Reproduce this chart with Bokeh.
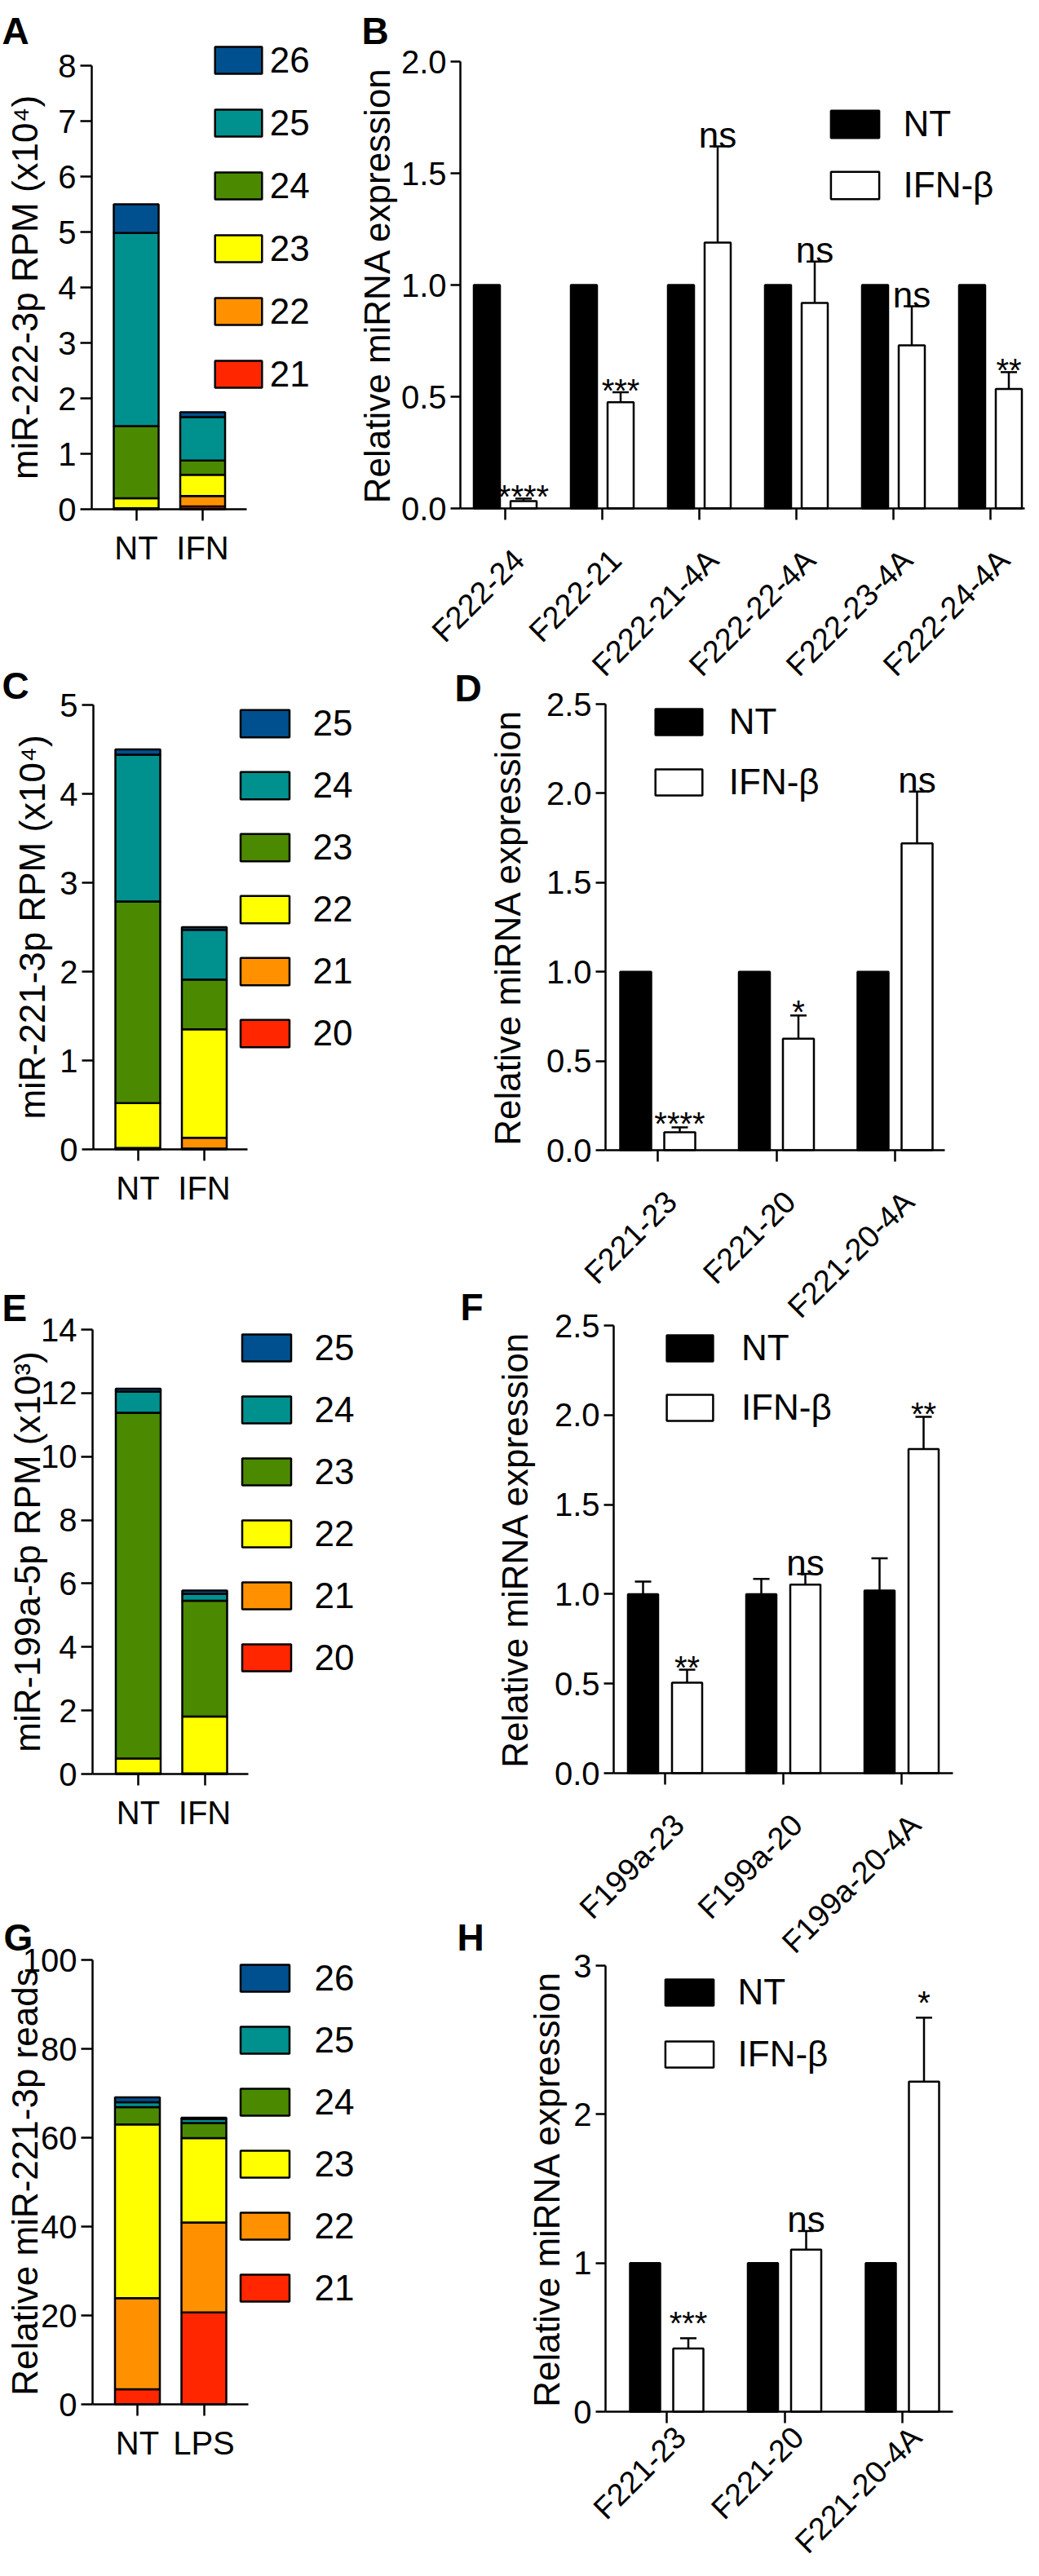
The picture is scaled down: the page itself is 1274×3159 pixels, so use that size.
import math
from bokeh.plotting import figure
from bokeh.models import (Range1d, FixedTicker, NumeralTickFormatter, Legend, LegendItem,
                          Label, LabelSet, ColumnDataSource, Whisker, TeeHead, LinearAxis)
from bokeh.embed import file_html
from bokeh.resources import INLINE
from bokeh.core.properties import value

FONT = "Liberation Sans"

# ---------------- data ----------------
# A
A_lengths = ["21", "22", "23", "24", "25", "26"]
A_groups = ["NT", "IFN"]
A_NT = [0.005, 0.015, 0.18, 1.30, 3.48, 0.52]
A_IFN = [0.05, 0.19, 0.38, 0.26, 0.78, 0.09]
A_yticks = [0, 1, 2, 3, 4, 5, 6, 7, 8]

# B
B_constructs = ["F222-24", "F222-21", "F222-21-4A", "F222-22-4A", "F222-23-4A", "F222-24-4A"]
B_NT = [1, 1, 1, 1, 1, 1]
B_IFN = [0.033, 0.475, 1.19, 0.92, 0.73, 0.535]
B_IFN_err = [0.011, 0.045, 0.43, 0.185, 0.175, 0.075]
B_sig = ["****", "***", "ns", "ns", "ns", "**"]
B_yticks = [0, 0.5, 1.0, 1.5, 2.0]

# C
C_lengths = ["20", "21", "22", "23", "24", "25"]
C_groups = ["NT", "IFN"]
C_NT = [0.005, 0.01, 0.505, 2.27, 1.65, 0.06]
C_IFN = [0.01, 0.12, 1.22, 0.56, 0.56, 0.03]
C_yticks = [0, 1, 2, 3, 4, 5]

# D
D_constructs = ["F221-23", "F221-20", "F221-20-4A"]
D_NT = [1, 1, 1]
D_IFN = [0.10, 0.625, 1.72]
D_IFN_err = [0.028, 0.13, 0.29]
D_sig = ["****", "*", "ns"]
D_yticks = [0, 0.5, 1.0, 1.5, 2.0, 2.5]

# E
E_lengths = ["20", "21", "22", "23", "24", "25"]
E_groups = ["NT", "IFN"]
E_NT = [0.0, 0.02, 0.47, 10.89, 0.67, 0.09]
E_IFN = [0.0, 0.02, 1.79, 3.65, 0.22, 0.10]
E_yticks = [0, 2, 4, 6, 8, 10, 12, 14]

# F
F_constructs = ["F199a-23", "F199a-20", "F199a-20-4A"]
F_NT = [1.0, 1.0, 1.02]
F_NT_err = [0.07, 0.085, 0.18]
F_IFN = [0.506, 1.053, 1.81]
F_IFN_err = [0.072, 0.06, 0.18]
F_sig = ["**", "ns", "**"]
F_yticks = [0, 0.5, 1.0, 1.5, 2.0, 2.5]

# G
G_lengths = ["21", "22", "23", "24", "25", "26"]
G_groups = ["NT", "LPS"]
G_NT = [3.4, 20.5, 39.1, 3.9, 1.1, 1.1]
G_LPS = [20.7, 20.2, 19.0, 3.4, 0.9, 0.3]
G_yticks = [0, 20, 40, 60, 80, 100]

# H
H_constructs = ["F221-23", "F221-20", "F221-20-4A"]
H_NT = [1, 1, 1]
H_IFN = [0.425, 1.09, 2.22]
H_IFN_err = [0.069, 0.125, 0.43]
H_sig = ["***", "ns", "*"]
H_yticks = [0, 1, 2, 3]

TREAT_LABELS = ["NT", "IFN-\u03b2"]
LEN_COLORS = ["#ff2600", "#ff9100", "#ffff00", "#4b8a00", "#00918f", "#00508f"]

# ---------------- one canvas holding all eight panels ----------------
W, H = 1258, 3143          # fits the window inside the 8px page margin
X0, Y0 = 8, 8              # canvas origin in reference (screenshot) pixels

p = figure(width=W, height=H, x_range=Range1d(0, W), y_range=Range1d(0, H),
           x_axis_type=None, y_axis_type=None,
           output_backend="svg", toolbar_location=None, tools="",
           min_border=0, min_border_left=0, min_border_right=0,
           min_border_top=0, min_border_bottom=0)
p.outline_line_color = None
p.background_fill_color = None
p.border_fill_color = None


class Map:
    """linear map between reference pixels and one panel's data units"""
    def __init__(self, x_px0, x_unit, y_px0, y_unit):
        self.x_px0, self.xu, self.y_px0, self.yu = x_px0, x_unit, y_px0, y_unit

    def x(self, px):
        return (px - self.x_px0) / self.xu

    def y(self, py):
        return (self.y_px0 - py) / self.yu


extra_x, extra_y = {}, {}


def register(name, m):
    extra_x[name] = Range1d(m.x(X0), m.x(X0 + W))
    extra_y[name] = Range1d(m.y(Y0 + H), m.y(Y0))


def axes(name, m, frame, ymax, yticks, ytick_out, title, title_standoff, xticks, xlabels,
         yfmt=None, xlabel_standoff=5):
    L, T, R, B = frame
    common = dict(axis_line_width=2.5, axis_line_color="black",
                  major_tick_line_width=2.5, major_tick_line_color="black",
                  major_tick_in=0, minor_tick_line_color=None,
                  major_label_text_font=FONT, major_label_text_font_size="40px",
                  major_label_text_color="black",
                  x_range_name=name, y_range_name=name)
    ya = LinearAxis(fixed_location=m.x(L), bounds=(0, ymax), ticker=FixedTicker(ticks=yticks),
                    major_tick_out=ytick_out, major_label_standoff=5,
                    axis_label=title, axis_label_text_font=FONT,
                    axis_label_text_font_size="44px", axis_label_text_font_style="normal",
                    axis_label_text_color="black", axis_label_standoff=title_standoff, **common)
    if yfmt is not None:
        ya.formatter = yfmt
    p.add_layout(ya, "left")
    xa = LinearAxis(fixed_location=0, bounds=(m.x(L), m.x(R)), ticker=FixedTicker(ticks=xticks),
                    major_tick_out=14, major_label_standoff=xlabel_standoff,
                    major_label_overrides={t: s for t, s in zip(xticks, xlabels)},
                    **common)
    p.add_layout(xa, "below")


def add_legend(items, box_left, box_w, box_top, box_h, pitch, label_left, fs=44):
    gw = int(round(box_w / 0.8))
    gh = int(round(box_h / 0.8))
    h_item = int(round(gh + 0.70 * fs))
    spacing = int(round(pitch - h_item))
    x1 = box_left - 0.1 * gw
    item_top = box_top - 0.1 * gh
    n = len(items)
    total = n * h_item + (n - 1) * spacing
    lx = x1 - X0
    ly = (Y0 + H) - (item_top + total)
    standoff = int(round(label_left - 2 - (x1 + gw)))
    lg = Legend(items=items, location=(lx, ly), glyph_width=gw, glyph_height=gh,
                label_height=h_item, label_width=10, spacing=spacing, padding=0, margin=0,
                label_standoff=standoff, label_text_font=FONT,
                label_text_font_size=f"{fs}px", label_text_baseline="alphabetic",
                label_text_color="black",
                border_line_color=None, background_fill_color=None)
    p.add_layout(lg)


def add_letter(name, m, letter, px, py):
    p.add_layout(Label(x=m.x(px), y=m.y(py), x_range_name=name, y_range_name=name,
                       text=letter, text_font=FONT, text_font_size="46px",
                       text_font_style="bold", text_baseline="alphabetic",
                       text_align="left", text_color="black"))


panels = []


def stacked_panel(name, spec, lengths, groups, nt, other, yticks, title):
    L, T, R, B = spec["frame"]
    c0, c1 = spec["centers"]
    ymax = yticks[-1]
    m = Map(c0, c1 - c0, B, (B - T) / ymax)
    register(name, m)

    def draw():
        data = {"x": [0, 1]}
        for i, ln in enumerate(lengths):
            data[ln] = [nt[i], other[i]]
        src = ColumnDataSource(data)
        rs = p.vbar_stack(stackers=lengths, x="x", width=spec["barw"] / m.xu, source=src,
                          fill_color=LEN_COLORS, line_color="black", line_width=2.5,
                          x_range_name=name, y_range_name=name)
        axes(name, m, spec["frame"], ymax, yticks, 14, title, spec["title_standoff"], [0, 1], groups,
             xlabel_standoff=11)
        items = [LegendItem(label=lengths[i], renderers=[rs[i]]) for i in reversed(range(len(lengths)))]
        add_legend(items, *spec["legend"])
        for (letter, px, py) in spec["letters"]:
            add_letter(name, m, letter, px, py)
    panels.append(draw)


def bar_panel(name, spec, constructs, nt, nt_err, ifn, ifn_err, sig, yticks, title):
    n = len(constructs)
    L, T, R, B = spec["frame"]
    ymax = yticks[-1]
    m = Map(spec["g0"], spec["d"], B, (B - T) / ymax)
    register(name, m)

    def draw():
        rn = dict(x_range_name=name, y_range_name=name)
        idx = list(range(n))
        off = spec["off"] / m.xu
        w = spec["barw"] / m.xu
        nt_x = [i - off for i in idx]
        ifn_x = [i + off for i in idx]
        r_nt = p.vbar(x=nt_x, top=nt, width=w, fill_color="black", line_color="black",
                      line_width=2.5, **rn)
        r_ifn = p.vbar(x=ifn_x, top=ifn, width=w, fill_color="white", line_color="black",
                       line_width=2.5, **rn)

        def whisk(xs, tops, errs):
            src = ColumnDataSource(dict(base=xs, lower=tops,
                                        upper=[t + e for t, e in zip(tops, errs)]))
            p.add_layout(Whisker(source=src, base="base", lower="lower", upper="upper",
                                 line_width=2.5, line_color="black", level="overlay",
                                 upper_head=TeeHead(size=20, line_width=2.5, line_color="black"),
                                 lower_head=None, **rn))

        if nt_err is not None:
            whisk(nt_x, nt, nt_err)
        whisk(ifn_x, ifn, ifn_err)

        for i in idx:
            top = ifn[i] + ifn_err[i]
            if sig[i] == "ns":
                y = top + spec["ns_pad"] / m.yu
                fs = "44px"
            else:
                y = top + spec["star_pad"] / m.yu
                fs = "40px"
            p.text(x=[ifn_x[i]], y=[y], text=[sig[i]], text_font=value(FONT),
                   text_font_size=value(fs), text_align="center", text_baseline="alphabetic",
                   text_color="black", **rn)

        fmt = NumeralTickFormatter(format="0.0") if any(not float(t).is_integer() for t in yticks) else None
        axes(name, m, spec["frame"], ymax, yticks, 12, title, spec["title_standoff"],
             idx, [""] * n, yfmt=fmt)

        lab_src = ColumnDataSource(dict(x=[i + 2 / m.xu for i in idx],
                                        y=[m.y(B + spec["lab_drop"])] * n,
                                        text=constructs))
        p.add_layout(LabelSet(x="x", y="y", text="text", source=lab_src, angle=math.pi / 4,
                              text_align="right", text_baseline="top",
                              text_font=value(FONT), text_font_size=value("38px"),
                              text_color="black", **rn))

        items = [LegendItem(label=TREAT_LABELS[0], renderers=[r_nt]),
                 LegendItem(label=TREAT_LABELS[1], renderers=[r_ifn])]
        add_legend(items, *spec["legend"])
        for (letter, px, py) in spec["letters"]:
            add_letter(name, m, letter, px, py)
    panels.append(draw)


# ---- panel geometry (reference pixels) ----
spec_A = dict(frame=(120, 88, 310, 632), centers=(174.5, 256), barw=55,
              title_standoff=13, legend=(271, 58, 50, 33, 76.6, 341), letters=[("A", 10, 45)])
spec_C = dict(frame=(122, 872, 311, 1417), centers=(176.5, 258), barw=55,
              title_standoff=6, legend=(302, 60, 863, 34, 76.4, 393), letters=[("C", 10, 848)])
spec_E = dict(frame=(121, 1638, 312, 2183), centers=(177, 258.5), barw=55,
              title_standoff=-11, legend=(304, 60, 1629, 33, 76.2, 396), letters=[("E", 10, 1611)])
spec_G = dict(frame=(121, 2411, 312, 2956), centers=(176, 257.5), barw=55,
              title_standoff=-30, legend=(302, 60, 2402, 33, 76.2, 396), letters=[("G", 12, 2383)])

spec_B = dict(frame=(572, 83, 1264, 631), g0=627, d=119, off=22.5, barw=32,
              title_standoff=2, legend=(1026, 59, 128, 34, 75, 1118), ns_pad=14, star_pad=2,
              lab_drop=42, letters=[("B", 451, 45)])
spec_D = dict(frame=(750, 871, 1166, 1418), g0=814, d=145.5, off=27, barw=38,
              title_standoff=20, legend=(811, 58, 861, 32, 74, 904), ns_pad=14, star_pad=4,
              lab_drop=42, letters=[("D", 565, 851)])
spec_F = dict(frame=(760, 1633, 1176, 2182), g0=823, d=145, off=27, barw=37,
              title_standoff=21, legend=(825, 57, 1629, 32, 73, 919), ns_pad=14, star_pad=3,
              lab_drop=42, letters=[("F", 572, 1610)])
spec_H = dict(frame=(750, 2418, 1176, 2965), g0=825, d=144.5, off=26.5, barw=37,
              title_standoff=5, legend=(823, 59, 2419, 32, 76, 915), ns_pad=14, star_pad=18,
              lab_drop=10, letters=[("H", 568, 2383)])

stacked_panel("A", spec_A, A_lengths, A_groups, A_NT, A_IFN, A_yticks, "miR-222-3p RPM (x10\u2074)")
stacked_panel("C", spec_C, C_lengths, C_groups, C_NT, C_IFN, C_yticks, "miR-221-3p RPM (x10\u2074)")
stacked_panel("E", spec_E, E_lengths, E_groups, E_NT, E_IFN, E_yticks, "miR-199a-5p RPM (x10\u00b3)")
stacked_panel("G", spec_G, G_lengths, G_groups, G_NT, G_LPS, G_yticks, "Relative miR-221-3p reads")
bar_panel("B", spec_B, B_constructs, B_NT, None, B_IFN, B_IFN_err, B_sig, B_yticks, "Relative miRNA expression")
bar_panel("D", spec_D, D_constructs, D_NT, None, D_IFN, D_IFN_err, D_sig, D_yticks, "Relative miRNA expression")
bar_panel("F", spec_F, F_constructs, F_NT, F_NT_err, F_IFN, F_IFN_err, F_sig, F_yticks, "Relative miRNA expression")
bar_panel("H", spec_H, H_constructs, H_NT, None, H_IFN, H_IFN_err, H_sig, H_yticks, "Relative miRNA expression")

p.extra_x_ranges = extra_x
p.extra_y_ranges = extra_y
for draw in panels:
    draw()

with open("out.html", "w") as f:
    f.write(file_html(p, INLINE, title="miRNA isoforms"))
